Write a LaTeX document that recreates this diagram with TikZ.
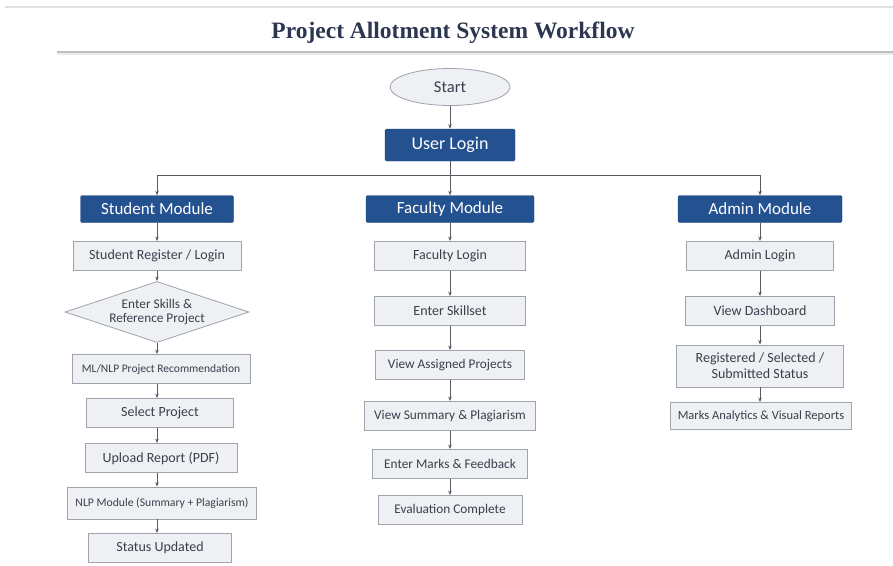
\documentclass[tikz,border=0pt]{standalone}
\usepackage{fontspec}
\setmainfont{Carlito}
\newfontfamily\titlefont{Liberation Serif}
\usetikzlibrary{shapes.geometric,arrows.meta}
\definecolor{modblue}{HTML}{245190}
\definecolor{boxfill}{HTML}{EEF0F4}
\definecolor{boxline}{HTML}{9EA3AC}
\definecolor{txt}{HTML}{3A3F4C}
\definecolor{arr}{HTML}{555A63}
\definecolor{titlec}{HTML}{2C3650}
\tikzset{
  modbox/.style={draw=modblue!85!black,fill=modblue,text=white,rounded corners=1.5pt,
    font=\fontsize{17}{19}\selectfont,minimum height=27pt,inner sep=1pt},
  procbox/.style={draw=boxline,fill=boxfill,text=txt,line width=0.8pt,
    font=\fontsize{14}{16}\selectfont,minimum height=29pt,inner sep=1pt,align=center},
  small/.style={font=\fontsize{13.3}{15}\selectfont},
  flow/.style={draw=arr,line width=0.7pt,-{Stealth[length=4.5pt,width=3.5pt]}},
  plain/.style={draw=arr,line width=0.7pt}
}
\begin{document}
\begin{tikzpicture}[x=1pt,y=-1pt]
\useasboundingbox (0,0) rectangle (893,565);
\fill[white] (0,0) rectangle (893,565);
% top rules
\draw[black!12,line width=1.5pt] (5,7) -- (893,7);
\draw[black!25,line width=1.6pt] (57,52) -- (893,52);
\draw[black!8,line width=1.5pt] (57,54) -- (893,54);
\node[text=titlec,font=\titlefont\bfseries\fontsize{23.5}{26}\selectfont] (title) at (453,33) {Project Allotment System Workflow};

% start and login
\node[ellipse,draw=boxline,fill=boxfill,text=txt,line width=0.8pt,minimum width=120pt,minimum height=37pt,inner sep=0pt,font=\fontsize{16.5}{18}\selectfont] (start) at (450,87) {Start};
\node[modbox,minimum width=130pt,minimum height=32pt,font=\fontsize{18}{20}\selectfont] (ul) at (450,145) {User Login};

% modules
\node[modbox,minimum width=153pt] (sm) at (157,209) {Student Module};
\node[modbox,minimum width=168pt] (fm) at (450,209) {Faculty Module};
\node[modbox,minimum width=164pt] (am) at (760,209) {Admin Module};

\coordinate (jm) at (450,175);
\coordinate (jl) at (157,175);
\coordinate (jr) at (760,175);
\coordinate (sx) at (157,0);

\draw[flow] (start) -- (ul);
\draw[plain] (ul) -- (jm);
\draw[plain] (jl) -- (jr);
\draw[flow] (jl) -- (sm);
\draw[flow] (jm) -- (fm);
\draw[flow] (jr) -- (am);

% student column
\node[procbox,minimum width=168pt] (s1) at (157,256) {Student Register / Login};
\node[diamond,draw=boxline,fill=boxfill,text=txt,line width=0.8pt,aspect=3,inner sep=0pt,
  minimum width=184pt,minimum height=61pt,align=center,font=\fontsize{13.3}{14.5}\selectfont] (s2) at (157,312) {Enter Skills \&\\Reference Project};
\node[procbox,minimum width=178pt,font=\fontsize{11.5}{13}\selectfont] (s3) at (161,369) {ML/NLP Project Recommendation};
\node[procbox,minimum width=147pt] (s4) at (160,413) {Select Project};
\node[procbox,minimum width=152pt] (s5) at (161,458) {Upload Report (PDF)};
\node[procbox,minimum width=189pt,minimum height=32pt,font=\fontsize{11.7}{13}\selectfont] (s6) at (162,503) {NLP Module (Summary + Plagiarism)};
\node[procbox,minimum width=143pt] (s7) at (160,548) {Status Updated};

\draw[flow] (sm.south -| sx) -- (s1.north -| sx);
\draw[flow] (s1.south -| sx) -- (s2.north -| sx);
\draw[flow] (s2.south -| sx) -- (s3.north -| sx);
\draw[flow] (s3.south -| sx) -- (s4.north -| sx);
\draw[flow] (s4.south -| sx) -- (s5.north -| sx);
\draw[flow] (s5.south -| sx) -- (s6.north -| sx);
\draw[flow] (s6.south -| sx) -- (s7.north -| sx);

% faculty column
\node[procbox,minimum width=151pt] (f1) at (450,256) {Faculty Login};
\node[procbox,minimum width=151pt] (f2) at (450,311) {Enter Skillset};
\node[procbox,small,minimum width=149pt] (f3) at (450,365) {View Assigned Projects};
\node[procbox,small,minimum width=171pt] (f4) at (450,416) {View Summary \& Plagiarism};
\node[procbox,small,minimum width=155pt] (f5) at (450,464) {Enter Marks \& Feedback};
\node[procbox,small,minimum width=144pt] (f6) at (450,510) {Evaluation Complete};

\draw[flow] (fm) -- (f1);
\draw[flow] (f1) -- (f2);
\draw[flow] (f2) -- (f3);
\draw[flow] (f3) -- (f4);
\draw[flow] (f4) -- (f5);
\draw[flow] (f5) -- (f6);

% admin column
\node[procbox,minimum width=147pt] (a1) at (760,256) {Admin Login};
\node[procbox,minimum width=149pt] (a2) at (760,311) {View Dashboard};
\node[procbox,minimum width=167pt,minimum height=42pt,font=\fontsize{14}{16}\selectfont] (a3) at (760,366) {Registered / Selected /\\Submitted Status};
\node[procbox,minimum width=181pt,minimum height=27pt,font=\fontsize{12.5}{14}\selectfont] (a4) at (761,416) {Marks Analytics \& Visual Reports};

\draw[flow] (am) -- (a1);
\draw[flow] (a1) -- (a2);
\draw[flow] (a2) -- (a3);
\draw[flow] (a3) -- (a4.north -| a3.south);
\end{tikzpicture}
\end{document}
